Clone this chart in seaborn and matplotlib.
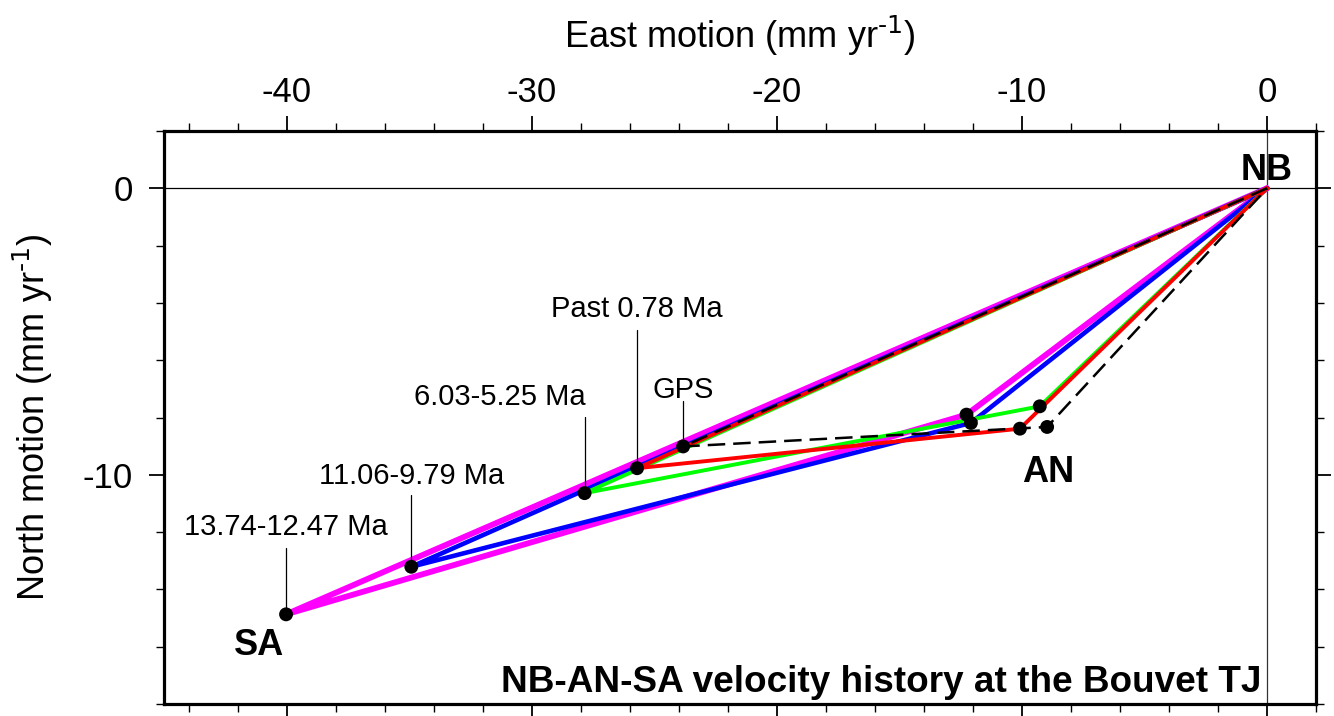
import matplotlib
matplotlib.use("Agg")
import matplotlib.pyplot as plt
import numpy as np
import pandas as pd
import seaborn as sns
from matplotlib.ticker import MultipleLocator

# Relative velocity vectors (mm/yr) for the Bouvet triple junction, NB fixed at origin
epochs = ["13.74-12.47 Ma", "11.06-9.79 Ma", "6.03-5.25 Ma", "Past 0.78 Ma", "GPS"]
sa_east = [-40.02, -34.91, -27.84, -25.70, -23.82]
sa_north = [-14.87, -13.21, -10.64, -9.77, -9.01]
an_east = [-12.26, -12.08, -9.27, -10.08, -8.97]
an_north = [-7.90, -8.19, -7.61, -8.39, -8.33]
nb_east, nb_north = 0.0, 0.0

# Epoch label placement: text baseline and top of the leader line (north, mm/yr)
label_north = [-12.10, -10.31, -7.55, -4.48, -7.31]
leader_top = [-12.55, -10.70, -7.97, -4.93, -7.41]
label_ha = ["center", "center", "right", "center", "center"]

plate_names = ["NB", "AN", "SA"]
plate_label_east = [0.0, -8.91, -41.11]
plate_label_north = [0.28, -10.24, -16.29]

title_text = "NB-AN-SA velocity history at the Bouvet TJ"

colors = ["#ff00ff", "#0000ff", "#00ff00", "#ff0000", "black"]
widths = [4.2, 3.3, 2.8, 2.8, 1.8]
styles = ["-", "-", "-", "-", (0, (7, 3.2))]

sns.set_theme(style="ticks")
plt.rcParams["font.family"] = ["Liberation Sans", "DejaVu Sans"]
plt.rcParams["mathtext.default"] = "regular"
plt.rcParams["axes.unicode_minus"] = False
plt.rcParams["text.color"] = "black"
plt.rcParams["axes.labelcolor"] = "black"
plt.rcParams["xtick.labelcolor"] = "black"
plt.rcParams["ytick.labelcolor"] = "black"

fig = plt.figure(figsize=(13.34, 7.16), dpi=100)
fig.patch.set_facecolor("white")
ax = fig.add_axes([164 / 1334, 1 - 704 / 716, 1152 / 1334, 573 / 716])
ax.set_facecolor("white")

# reference axes through the origin
ax.axhline(0, color="black", lw=0.9, zorder=1)
ax.axvline(0, color="#333333", lw=0.9, zorder=1)

# closed velocity triangles NB -> SA -> AN -> NB
for i, ep in enumerate(epochs):
    tri = pd.DataFrame({
        "east": [nb_east, sa_east[i], an_east[i], nb_east],
        "north": [nb_north, sa_north[i], an_north[i], nb_north],
    })
    sns.lineplot(data=tri, x="east", y="north", sort=False, estimator=None,
                 color=colors[i], lw=widths[i], linestyle=styles[i],
                 ax=ax, zorder=3 + i, legend=False)

# leader lines from each SA velocity to its epoch label
for i, ep in enumerate(epochs):
    ax.plot([sa_east[i], sa_east[i]], [sa_north[i], leader_top[i]],
            color="black", lw=0.9, zorder=9)
    ax.text(sa_east[i] + (0.05 if label_ha[i] == "right" else 0.0), label_north[i], ep,
            ha=label_ha[i], va="baseline", fontsize=21, color="black", zorder=10)

# plate velocity points
pts = pd.DataFrame({
    "east": sa_east + an_east,
    "north": sa_north + an_north,
})
sns.scatterplot(data=pts, x="east", y="north", color="black", s=100,
                edgecolor="none", ax=ax, zorder=12, legend=False)

for name, xe, yn in zip(plate_names, plate_label_east, plate_label_north):
    ax.text(xe, yn, name, ha="center", va="baseline", fontsize=26,
            fontweight="bold", color="black", zorder=11)

ax.text(0.9525, 0.021, title_text, transform=ax.transAxes, ha="right",
        va="baseline", fontsize=26.6, fontweight="bold", color="black", zorder=11)

ax.set_xlim(-45, 2)
ax.set_ylim(-18, 2)
ax.xaxis.set_major_locator(MultipleLocator(10))
ax.xaxis.set_minor_locator(MultipleLocator(2))
ax.yaxis.set_major_locator(MultipleLocator(10))
ax.yaxis.set_minor_locator(MultipleLocator(2))

ax.tick_params(which="both", direction="out", top=True, bottom=True, left=True,
               right=True, labeltop=True, labelbottom=False, labelleft=True,
               labelright=False, color="black")
ax.tick_params(which="major", length=11, width=1.3, labelsize=25)
ax.tick_params(which="minor", length=5.8, width=1.0)
ax.tick_params(axis="x", which="major", pad=5)
ax.tick_params(axis="y", which="major", pad=11.5)

for sp in ax.spines.values():
    sp.set_visible(True)
    sp.set_linewidth(2.3)
    sp.set_color("black")
    sp.set_zorder(20)

ax.xaxis.set_label_position("top")
ax.set_xlabel(r"East motion (mm yr$^{\text{-1}}$)", fontsize=26, labelpad=20)
ax.set_ylabel(r"North motion (mm yr$^{\text{-1}}$)", fontsize=26, labelpad=20)

fig.savefig("out.png", dpi=100, facecolor="white")
